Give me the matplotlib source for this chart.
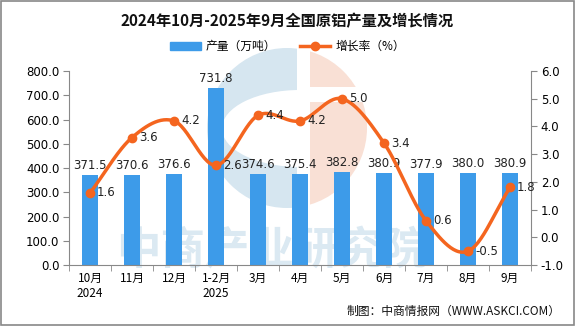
import numpy as np
import matplotlib
matplotlib.use("Agg")
import matplotlib.pyplot as plt
from matplotlib.patches import Rectangle, Circle, Ellipse
from matplotlib.lines import Line2D

plt.rcParams['font.family'] = ['Noto Sans CJK SC', 'DejaVu Sans']

categories = ["10月\n2024", "11月", "12月", "1-2月\n2025", "3月", "4月", "5月", "6月", "7月", "8月", "9月"]
production = [371.5, 370.6, 376.6, 731.8, 374.6, 375.4, 382.8, 380.9, 377.9, 380.0, 380.9]
growth = [1.6, 3.6, 4.2, 2.6, 4.4, 4.2, 5.0, 3.4, 0.6, -0.5, 1.8]
left_ticks = [0, 100, 200, 300, 400, 500, 600, 700, 800]
right_ticks = [-1, 0, 1, 2, 3, 4, 5, 6]

BLUE = "#3d9be9"
ORANGE = "#f4651f"
WM_BLUE = "#d6e6f0"
WM_PEACH = "#f9e0d5"

fig = plt.figure(figsize=(5.75, 3.26), dpi=100)
fig.patch.set_facecolor("white")
fig.add_artist(Rectangle((0.001, 0.002), 0.997, 0.995, transform=fig.transFigure,
                         fill=False, edgecolor="#888888", lw=1.2))

# watermark logo (background decoration)
wm = fig.add_axes([0, 0, 1, 1], zorder=0)
wm.set_xlim(0, 575); wm.set_ylim(326, 0); wm.axis("off")
clip_c = Circle((287, 128), 80, transform=wm.transData)
def clipped(p):
    wm.add_patch(p)
    p.set_clip_path(clip_c)
clipped(Rectangle((200, 40), 97, 180, facecolor=WM_BLUE, edgecolor="none"))
clipped(Ellipse((300, 128.5), 156, 77, facecolor="white", edgecolor="none"))
clipped(Rectangle((310, 40), 70, 47, facecolor=WM_PEACH, edgecolor="none"))
clipped(Rectangle((310, 102), 70, 120, facecolor=WM_PEACH, edgecolor="none"))
wm.text(272, 251, "中商产业研究院", fontsize=32, color="#dbe9f2", ha="center", va="center",
        fontweight="bold")

ax = fig.add_axes([0.12, 0.187, 0.8035, 0.595], zorder=2)
ax.patch.set_alpha(0)
x = np.arange(len(categories))
ax.bar(x, production, width=0.36, color=BLUE, zorder=2)
ax.set_xlim(-0.5, len(categories) - 0.5)
ax.set_ylim(0, 800)
ax.set_yticks(left_ticks)
ax.set_yticklabels([f"{v:.1f}" for v in left_ticks], fontsize=8.5, family="DejaVu Sans")
ax.set_xticks(x)
ax.set_xticklabels(categories, fontsize=8.5)
ax.set_xticks(np.arange(-0.5, len(categories)), minor=True)
ax.tick_params(axis="x", which="major", length=0, pad=5)
ax.tick_params(axis="x", which="minor", length=4, color="#888888")
ax.tick_params(axis="y", length=4, color="#888888", pad=3)
for s in ["top", "right"]:
    ax.spines[s].set_visible(False)
ax.spines["left"].set_color("#888888")
ax.spines["bottom"].set_color("#888888")
for xi, v in zip(x, production):
    ax.text(xi, v + 12, f"{v:.1f}", ha="center", va="bottom", fontsize=8.5, family="DejaVu Sans",
            color="#222222", zorder=5)

ax2 = ax.twinx()
ax2.set_zorder(3)
ax2.set_ylim(-1, 6)
ax2.set_yticks(right_ticks)
ax2.set_yticklabels([f"{v:.1f}" for v in right_ticks], fontsize=8.5, family="DejaVu Sans")
ax2.tick_params(axis="y", length=4, color="#888888", pad=3)
for s in ["top", "left", "bottom"]:
    ax2.spines[s].set_visible(False)
ax2.spines["right"].set_color("#888888")

# smooth curve (Catmull-Rom style Bezier through the data points)
px = x.astype(float); py = np.array(growth, dtype=float)
ext_x = np.concatenate([[2 * px[0] - px[1]], px, [2 * px[-1] - px[-2]]])
ext_y = np.concatenate([[2 * py[0] - py[1]], py, [2 * py[-1] - py[-2]]])
cx, cy = [], []
t = np.linspace(0, 1, 30)
for i in range(1, len(ext_x) - 2):
    p0, p1, p2, p3 = [np.array([ext_x[j], ext_y[j]]) for j in (i - 1, i, i + 1, i + 2)]
    b1 = p1 + (p2 - p0) / 6
    b2 = p2 - (p3 - p1) / 6
    pts = ((1 - t)[:, None] ** 3 * p1 + 3 * ((1 - t) ** 2 * t)[:, None] * b1
           + 3 * ((1 - t) * t ** 2)[:, None] * b2 + (t ** 3)[:, None] * p2)
    cx.extend(pts[:, 0]); cy.extend(pts[:, 1])
ax2.plot(cx, cy, color=ORANGE, lw=2.5, zorder=4, solid_capstyle="round")
ax2.plot(px, py, "o", color=ORANGE, ms=6, zorder=5)
for xi, v in zip(px, py):
    ax2.text(xi + 0.17, v, f"{v:.1f}", ha="left", va="center", fontsize=8.5,
             family="DejaVu Sans", color="#222222", zorder=6)

fig.text(0.5, 0.935, "2024年10月-2025年9月全国原铝产量及增长情况", ha="center", va="center",
         fontsize=11, fontweight="bold", color="#111111")

handles = [Rectangle((0, 0), 1, 1, color=BLUE),
           Line2D([0], [0], color=ORANGE, lw=2.5, marker="o", ms=6)]
fig.legend(handles, ["产量（万吨）", "增长率（%）"], loc="center", bbox_to_anchor=(0.5, 0.857),
           ncol=2, frameon=False, fontsize=8.5, handlelength=2.6, columnspacing=2.0,
           handletextpad=0.4)

fig.text(0.975, 0.045, "制图：中商情报网（WWW.ASKCI.COM）", ha="right", va="center", fontsize=8.5,
         color="#111111")

fig.savefig("out.png", dpi=100, facecolor="white")
